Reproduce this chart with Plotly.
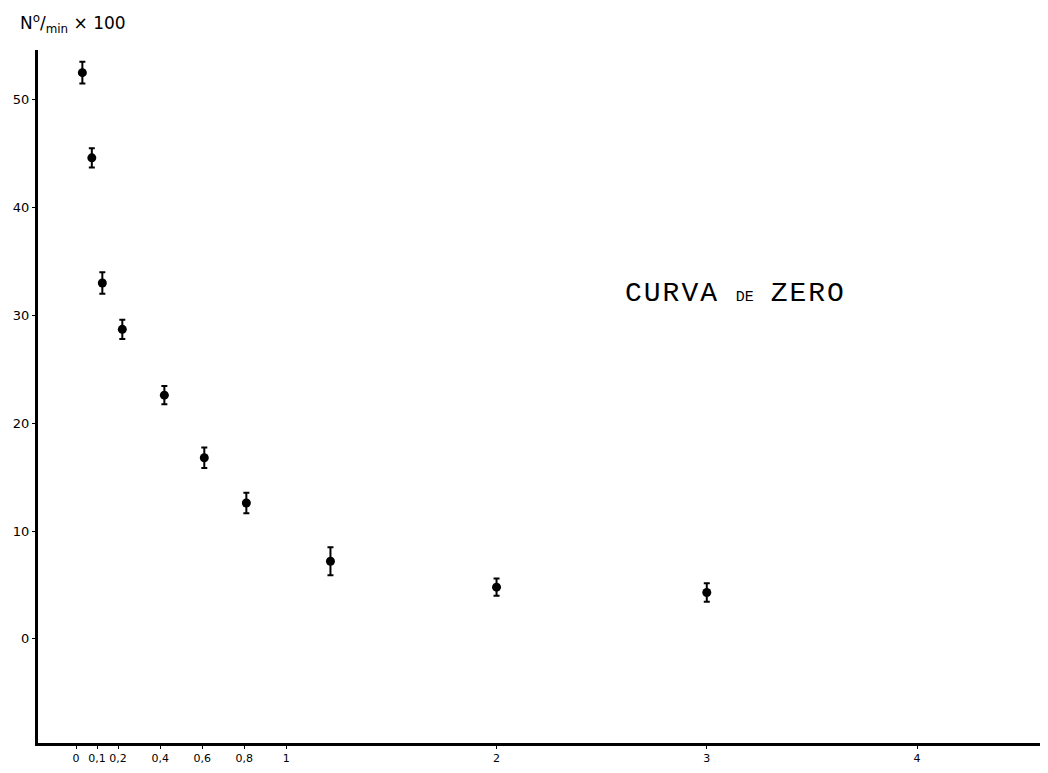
import plotly.graph_objects as go

# data
x_vals = [0.03, 0.075, 0.125, 0.22, 0.42, 0.61, 0.81, 1.21, 2.0, 3.0]
y_vals = [52.5, 44.6, 33.0, 28.7, 22.6, 16.8, 12.6, 7.2, 4.8, 4.3]
y_err = [1.0, 0.9, 1.0, 0.9, 0.85, 0.95, 0.95, 1.3, 0.8, 0.85]

x_tickvals = [0, 0.1, 0.2, 0.4, 0.6, 0.8, 1, 2, 3, 4]
x_ticktext = ["0", "0,1", "0,2", "0,4", "0,6", "0,8", "1", "2", "3", "4"]
y_tickvals = [0, 10, 20, 30, 40, 50]
y_ticktext = ["0", "10", "20", "30", "40", "50"]

fig = go.Figure()
fig.add_trace(go.Scatter(
    x=x_vals, y=y_vals, mode="markers",
    marker=dict(color="black", size=9),
    error_y=dict(type="data", array=y_err, visible=True, color="black",
                 thickness=2, width=3),
    showlegend=False,
))

fig.update_layout(
    width=1040, height=765,
    margin=dict(l=30, r=0, t=42, b=30),
    paper_bgcolor="white", plot_bgcolor="white",
    font=dict(family="DejaVu Sans", size=13, color="black"),
    xaxis=dict(range=[-0.181, 4.623], showgrid=False, zeroline=False,
               showline=True, linecolor="black", linewidth=3,
               tickmode="array", tickvals=x_tickvals, ticktext=x_ticktext,
               ticks="outside", ticklen=3, tickcolor="black", tickwidth=1,
               tickangle=0, automargin=False,
               tickfont=dict(size=11)),
    yaxis=dict(range=[-9.65, 54.6], showgrid=False, zeroline=False,
               showline=True, linecolor="black", linewidth=3,
               tickmode="array", tickvals=y_tickvals, ticktext=y_ticktext,
               ticks="outside", ticklen=3, tickcolor="black", tickwidth=1,
               ticklabelstandoff=0, automargin=False,
               tickfont=dict(size=13)),
    annotations=[
        dict(text="N<sup>o</sup>/<sub>min</sub> × 100", xref="paper", yref="paper",
             x=-0.02, y=1.018, xanchor="left", yanchor="bottom", showarrow=False,
             font=dict(size=17, family="DejaVu Sans")),
        dict(text="<span style='letter-spacing:2px'>CURVA</span> <span style='font-size:15px'>DE</span> <span style='letter-spacing:2px'>ZERO</span>",
             x=2.6, y=32.05, xref="x", yref="y", xanchor="left", yanchor="middle",
             showarrow=False, font=dict(size=28, family="Liberation Mono")),
    ],
)

fig.write_html("out.html")
